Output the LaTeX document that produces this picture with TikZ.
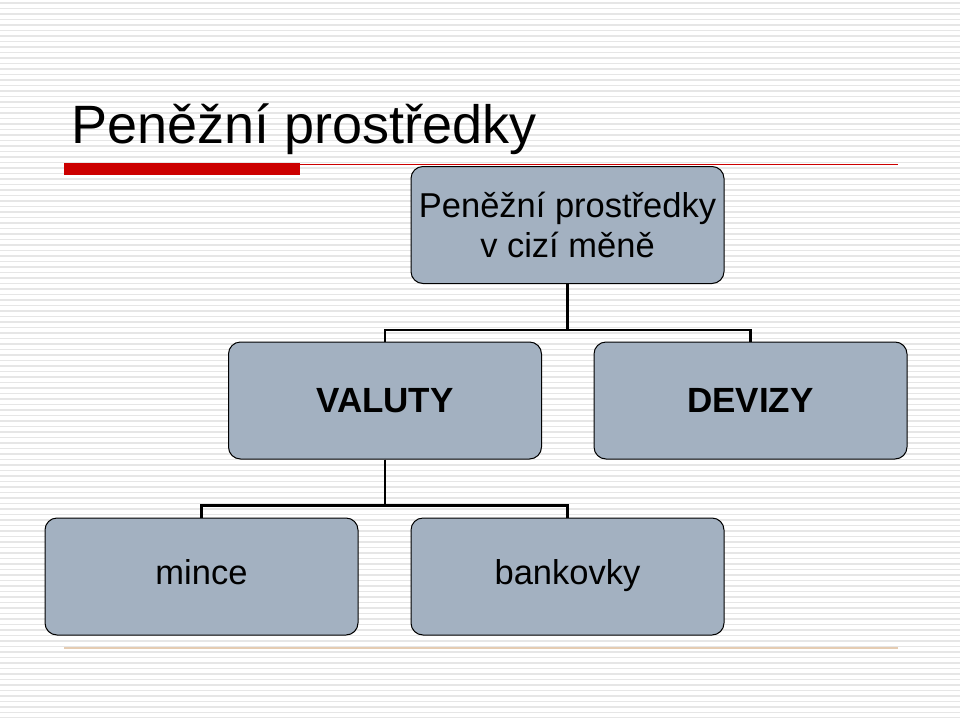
\documentclass[tikz,border=0pt]{standalone}
\usepackage{fontspec}
\setmainfont{Liberation Sans}
\usetikzlibrary{positioning}
\definecolor{boxfill}{RGB}{163,177,193}
\definecolor{titlered}{RGB}{204,0,0}
\definecolor{stripe}{RGB}{230,230,230}
\tikzset{
  orgbox/.style={draw=black, fill=boxfill, rounded corners=12pt, line width=1pt,
    minimum width=313pt, minimum height=117pt, align=center,
    font=\fontsize{34.5}{36}\selectfont},
  orgline/.style={line width=2.2pt}
}
\begin{document}
\begin{tikzpicture}[x=1pt,y=-1pt]
    % pozadi
    \fill[white] (0,0) rectangle (960,717);
    \useasboundingbox (0,0) rectangle (960,717);
    \foreach \i in {0,...,130} {
      \draw[stripe, line width=1.8pt] (0,3+5.5*\i) -- (960,3+5.5*\i);
    }
    
    % nadpis
    \node[anchor=base west, inner sep=0pt, font=\fontsize{54}{56}\selectfont] (title) at (71,143) {Peněžní prostředky};
    \fill[titlered] (64,163) rectangle (300,175);
    \draw[titlered, line width=0.8pt] (300,164) -- (898,164);
    \draw[brown!40, line width=1.2pt] (64,648) -- (898,648);
    
    % uzly
    \node[orgbox] (cizi) at (567.5,225) {Peněžní prostředky\\[4pt]v cizí měně};
    \node[orgbox, font=\fontsize{35}{36}\selectfont\bfseries] (valuty) at (385,400.5) {VALUTY};
    \node[orgbox, font=\fontsize{35}{36}\selectfont\bfseries] (devizy) at (750.5,400.5) {DEVIZY};
    \node[orgbox, text height=25pt, text depth=10pt] (mince) at (201.5,576.5) {mince};
    \node[orgbox, text height=25pt, text depth=10pt] (bankovky) at (567.5,576.5) {bankovky};
    
    % spojnice
    \draw[orgline] (cizi.south) -- ++(0,46) -| (valuty.north);
    \draw[orgline] (cizi.south) -- ++(0,46) -| (devizy.north);
    \draw[orgline] (valuty.south) -- ++(0,46) -| (mince.north);
    \draw[orgline] (valuty.south) -- ++(0,46) -| (bankovky.north);
\end{tikzpicture}
\end{document}
